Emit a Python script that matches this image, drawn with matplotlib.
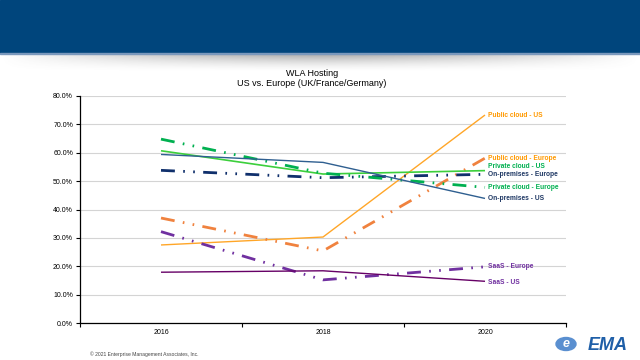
import numpy as np
import matplotlib.pyplot as plt
from matplotlib.patches import Rectangle, Ellipse

plt.rcParams['font.family'] = ['Liberation Sans', 'DejaVu Sans']

years = ['2016', '2018', '2020']
public_us = [27.5, 30.3, 73.3]
public_eu = [37.0, 25.4, 58.1]
private_us = [60.7, 52.5, 53.7]
private_eu = [64.8, 52.8, 47.8]
onprem_us = [59.4, 56.6, 43.9]
onprem_eu = [53.8, 51.2, 52.4]
saas_eu = [32.2, 15.2, 19.8]
saas_us = [17.9, 18.4, 14.7]
yticks = [0, 10, 20, 30, 40, 50, 60, 70, 80]

dashdotdot = (0, (5, 3, 0.6, 3, 0.6, 3))

# (values, label, line colour, label colour, style, width, label y offset in %)
series = [
    (public_us, 'Public cloud - US', '#FFA628', '#FF9900', '-', 1.0, 0.0),
    (public_eu, 'Public cloud - Europe', '#F0823E', '#FF9900', dashdotdot, 2.0, 0.0),
    (private_us, 'Private cloud - US', '#3CCF3C', '#00B050', '-', 1.2, 1.6),
    (onprem_eu, 'On-premises - Europe', '#10306C', '#1F3864', dashdotdot, 2.0, 0.0),
    (private_eu, 'Private cloud - Europe', '#00B050', '#00B050', dashdotdot, 2.0, 0.0),
    (onprem_us, 'On-premises - US', '#2F5F90', '#1F3864', '-', 1.0, 0.0),
    (saas_eu, 'SaaS - Europe', '#7030A0', '#7030A0', dashdotdot, 2.0, 0.0),
    (saas_us, 'SaaS - US', '#660066', '#7030A0', '-', 1.0, -0.4),
]

fig = plt.figure(figsize=(6.4, 3.6), dpi=100)

# Header banner + shadow
fig.patches.append(Rectangle((0, 1 - 53 / 360), 1, 53 / 360, transform=fig.transFigure,
                             color='#00457C', zorder=0))
fig.patches.append(Rectangle((0, 1 - 54 / 360), 1, 1.2 / 360, transform=fig.transFigure,
                             color='#7A98BC', zorder=1))
shadow_ax = fig.add_axes([0, 1 - 72 / 360, 1, 18 / 360])
yy, xx = np.mgrid[0:1:40j, -1:1:400j]
alpha = (1 - yy) ** 1.6 * np.clip(1 - np.abs(xx) ** 1.5, 0, 1) * 0.55
img = np.zeros((40, 400, 4))
img[..., :3] = 0.35
img[..., 3] = alpha
shadow_ax.imshow(img, aspect='auto', extent=(0, 1, 1, 0))
shadow_ax.axis('off')

ax = fig.add_axes([80 / 640, 1 - 323 / 360, 486 / 640, 227 / 360])
x = np.arange(len(years))
for vals, name, color, tcolor, ls, lw, off in series:
    ax.plot(x, vals, color=color, linestyle=ls, linewidth=lw, solid_capstyle='butt')
    ax.text(2.02, vals[-1] + off, name, color=tcolor, fontsize=4.8, fontweight='bold',
            va='center', ha='left')

ax.set_xlim(-0.5, 2.5)
ax.set_ylim(0, 80)
ax.set_yticks(yticks)
ax.set_yticklabels([f'{v:.1f}%' for v in yticks], fontsize=5)
ax.set_xticks([-0.5, 0.5, 1.5, 2.5])
ax.set_xticklabels([])
ax.set_xticks(x, minor=True)
ax.set_xticklabels(years, minor=True, fontsize=5)
ax.tick_params(axis='x', which='minor', length=0, pad=4)
ax.tick_params(axis='x', which='major', length=3, width=0.8)
ax.tick_params(axis='y', length=3, width=0.8, pad=2)
ax.grid(True, axis='y', color='#D4D4D4', linewidth=0.8)
ax.set_axisbelow(True)
for side in ['top', 'right']:
    ax.spines[side].set_visible(False)
for side in ['left', 'bottom']:
    ax.spines[side].set_linewidth(0.9)

fig.text(312 / 640, 1 - 74 / 360, 'WLA Hosting', ha='center', va='center', fontsize=6.5)
fig.text(312 / 640, 1 - 84 / 360, 'US vs. Europe (UK/France/Germany)', ha='center',
         va='center', fontsize=6.5)

fig.text(90 / 640, 1 - 354 / 360, '\u00a9 2021 Enterprise Management Associates, Inc.',
         fontsize=3.6, color='#444444', va='center')

# EMA logo
fig.patches.append(Ellipse((566 / 640, 1 - 344 / 360), 20 / 640, 13 / 360,
                           transform=fig.transFigure, color='#5A8FD0', zorder=2))
fig.text(566 / 640, 1 - 344 / 360, 'e', fontsize=9, fontweight='bold', style='italic',
         color='white', ha='center', va='center', zorder=3)
fig.text(628 / 640, 1 - 346 / 360, 'EMA', fontsize=13, fontweight='bold', style='italic',
         color='#1F5FA8', ha='right', va='center')

fig.savefig('out.png', dpi=100)
